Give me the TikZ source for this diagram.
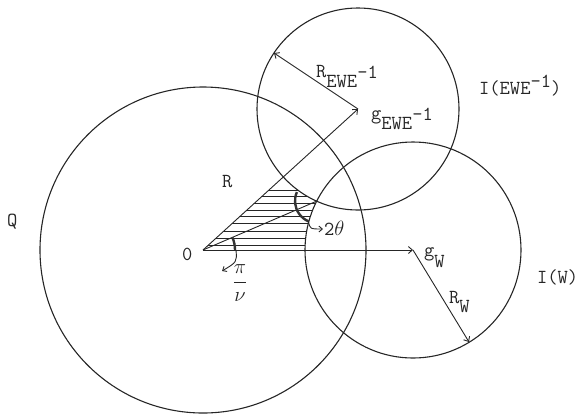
\documentclass[tikz,border=0pt]{standalone}
\usepackage{fontspec}
\usetikzlibrary{arrows.meta}
\tikzset{
  lbl/.style={inner sep=0pt, anchor=base west, text=black!85,
    font=\fontsize{20}{24}\selectfont\ttfamily\addfontfeature{LetterSpace=7.5,FakeBold=0.6}},
  circ/.style={line width=1.1bp, draw=black!85},
  ray/.style={line width=0.9bp, draw=black!85, -{Straight Barb[length=4bp,width=7bp]}},
  plainray/.style={line width=0.9bp, draw=black!85},
  hatchline/.style={line width=0.8bp, draw=black!85},
  anglemark/.style={line width=2.4bp, draw=black!80},
  anglearrow/.style={line width=0.9bp, draw=black!85, -{Straight Barb[length=3.5bp,width=6bp]}},
}
\newcommand{\lowr}[1]{\raisebox{-11pt}{#1}}
\newcommand{\shft}[2]{\raisebox{#1}{#2}}
\begin{document}
\begin{tikzpicture}[x=1bp,y=-1bp]
\useasboundingbox (0,0) rectangle (586,413);
% key points
\coordinate (O) at (203,250);
\coordinate (gE) at (358,109);
\coordinate (gW) at (413,250);
\coordinate (P) at (317,201);
\coordinate (tE) at (274,53);
\coordinate (tW) at (469,342);
\coordinate (hA) at (413,250);
% hatching
\begin{scope}
  \clip (O) -- (gE) -- (hA) -- cycle;
  \begin{scope}[even odd rule]
    \clip (0,0) rectangle (586,413) (gE) circle[radius=101];
    \begin{scope}[even odd rule]
      \clip (0,0) rectangle (586,413) (gW) circle[radius=108];
      \foreach \yy in {190,196.7,203.3,210,216.7,223.3,231,238.3,245}
        \draw[hatchline] (200,\yy) -- (330,\yy);
    \end{scope}
  \end{scope}
\end{scope}
% circles
\draw[circ] (O) circle[radius=163];
\draw[circ] (gE) circle[radius=101];
\draw[circ] (gW) circle[radius=108];
% rays
\draw[ray] (O) -- (gE);
\draw[ray] (O) -- (gW);
\draw[ray] (gE) -- (tE);
\draw[ray] (gW) -- (tW);
\draw[plainray] (O) -- (P);
% angle marks
\draw[anglemark] (P) ++(204:22) arc[start angle=204, end angle=113, radius=22] coordinate (aE);
\coordinate (aT) at (323,229);
\draw[anglearrow] (aE) .. controls (310,229) .. (aT);
\draw[anglemark] (O) ++(-23:32) arc[start angle=-23, end angle=0, radius=32];
\coordinate (bS) at (236,250);
\coordinate (bT) at (222,271);
\draw[anglearrow] (bS) .. controls (237,262) .. (bT);
% labels
\node[lbl] (lQ) at (7,226) {Q};
\node[lbl] (lR) at (222,187) {R};
\node[lbl] (lO) at (182,260) {0};
\node[lbl] (l2t) at (324,235) {2$\theta$};
\node[inner sep=0pt, text=black!85, font=\fontsize{20}{24}\selectfont] (lpi) at (240,283) {$\displaystyle\frac{\pi}{\nu}$};
\node[lbl] (lRE) at (316,77) {R\lowr{EWE}\shft{-2pt}{-1}};
\node[lbl] (lgE) at (371,119) {g\lowr{EWE}\shft{-1pt}{-1}};
\node[lbl] (lIE) at (479,94) {I(EWE\shft{7pt}{-1})};
\node[lbl] (lgW) at (424,256) {g\raisebox{-12pt}{W}};
\node[lbl] (lRW) at (449,303) {R\raisebox{-10pt}{W}};
\node[lbl] (lIW) at (537,283) {I(W)};
\end{tikzpicture}
\end{document}
